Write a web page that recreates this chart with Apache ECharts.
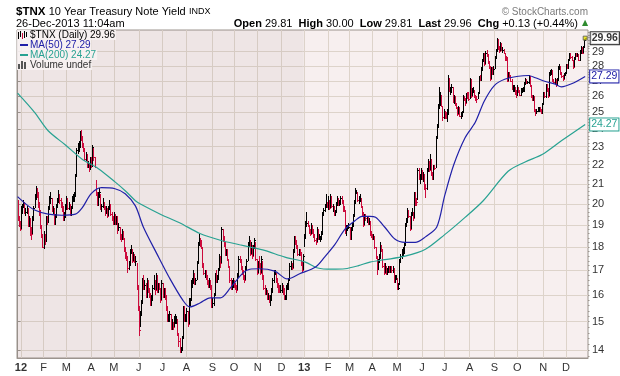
<!DOCTYPE html>
<html>
<head>
<meta charset="utf-8">
<title>$TNX 10 Year Treasury Note Yield</title>
<script src="https://cdn.jsdelivr.net/npm/echarts@6.0.0/dist/echarts.min.js"></script>
<style>
html, body { margin: 0; padding: 0; background: #fff; }
#chart { width: 620px; height: 376px; }
</style>
</head>
<body>
<div id="chart"></div>
<script>
// daily bars, one entry per trading day, 28-Dec-2011 .. 26-Dec-2013
const closes = [
  19.3, 19.1, 18.8,
  19.6, 19.9, 20.0, 19.6, 19.6, 19.7, 19.0, 19.3, 18.7, 18.6, 19.3, 19.8, 20.3, 20.7, 20.5, 20.0, 19.6, 18.9, 18.5, 18.0,
  18.5, 18.3, 19.3, 19.2, 19.8, 20.2, 20.3, 19.7, 19.8, 19.1, 19.4, 19.9, 20.1, 20.5, 20.2, 20.0, 19.8, 19.3, 19.4, 19.8,
  20.3, 19.8, 20.0, 19.5, 19.8, 20.3, 20.3, 20.4, 21.4, 22.8, 22.9, 23.0, 23.8, 23.6, 23.0, 22.9, 22.3, 22.6, 21.9, 22.0, 21.8, 22.3,
  22.0, 23.0, 22.4, 21.9, 20.5, 20.0, 20.5, 20.6, 19.8, 19.9, 20.1, 19.8, 19.6, 19.8, 19.4, 19.8, 20.0, 19.5, 19.3, 19.1,
  19.5, 19.1, 19.3, 18.8, 18.9, 18.5, 18.4, 18.7, 18.4, 17.9, 17.7, 17.6, 17.1, 17.3, 17.8, 17.9, 17.4, 17.7, 17.4, 17.4, 16.3, 15.6,
  14.7, 15.3, 15.7, 16.6, 16.4, 16.4, 16.0, 16.6, 16.2, 16.1, 15.8, 15.8, 16.3, 16.5, 16.2, 16.8, 16.2, 16.4, 16.3, 15.8, 16.5,
  16.0, 16.2, 15.9, 15.5, 15.1, 15.1, 15.3, 14.8, 14.9, 14.8, 15.1, 15.1, 15.1, 14.6, 14.3, 14.0, 14.0, 14.4, 15.5, 15.1, 15.1,
  15.4, 14.9, 15.7, 15.8, 16.5, 16.5, 16.9, 16.5, 16.6, 17.3, 18.1, 18.3, 18.1, 18.0, 17.2, 16.9, 16.9, 16.7, 16.5, 16.4, 16.6, 16.3, 15.7,
  15.7, 16.0, 16.8, 16.6, 16.7, 17.0, 17.6, 17.3, 18.8, 18.4, 18.1, 17.7, 17.8, 17.5, 17.2, 16.6, 16.3, 16.5, 16.5,
  16.4, 16.3, 16.2, 16.8, 17.5, 17.4, 17.1, 16.9, 16.7, 16.6, 17.1, 17.4, 18.1, 18.3, 17.7, 18.1, 17.6, 18.0, 18.3, 17.5, 16.9,
  17.3, 17.2, 16.9, 17.5, 16.7, 16.3, 16.1, 16.2, 15.9, 15.9, 15.8, 15.8, 16.2, 16.6, 16.9, 16.9, 16.6, 16.4, 16.3, 16.2, 16.2,
  16.3, 16.2, 15.9, 15.9, 16.3, 16.3, 16.6, 17.2, 17.2, 17.1, 17.8, 18.4, 18.2, 18.0, 17.7, 17.8, 17.7, 17.3, 17.0, 17.6,
  18.4, 19.0, 19.1, 19.0, 18.7, 18.6, 19.0, 18.7, 18.5, 18.3, 18.2, 18.8, 18.4, 18.4, 18.4, 18.6, 19.5, 19.7, 19.9, 20.0, 19.9,
  20.2, 19.8, 20.4, 19.9, 19.9, 19.5, 19.6, 20.0, 20.3, 20.0, 20.0, 20.3, 20.2, 19.8, 19.7, 18.7, 18.8, 18.9, 18.9,
  18.4, 18.8, 19.0, 19.4, 20.1, 20.6, 20.6, 20.2, 20.3, 20.3, 19.9, 19.6, 19.0, 19.4, 19.3, 19.3, 19.1, 19.2, 18.6, 18.5,
  18.4, 18.5, 18.0, 17.6, 17.1, 17.4, 17.6, 18.1, 17.9, 17.2, 16.9, 17.2, 16.9, 17.0, 17.1, 17.0, 17.1, 17.0, 17.1, 16.6, 16.7, 16.7,
  16.3, 16.3, 17.4, 17.6, 17.8, 17.8, 18.1, 19.0, 19.2, 19.7, 19.4, 18.8, 19.5, 19.6, 19.3, 20.4, 20.2, 20.1, 21.7, 21.3, 21.3, 21.6,
  21.3, 21.5, 20.9, 20.8, 21.7, 22.1, 21.7, 22.3, 21.5, 21.3, 21.9, 21.8, 23.5, 24.1, 25.3, 25.5, 26.1, 25.4, 24.7, 24.9,
  24.8, 24.7, 24.9, 27.2, 26.4, 26.4, 26.6, 25.7, 25.9, 25.5, 25.3, 24.9, 25.3, 24.8, 24.8, 25.0, 26.0, 25.8, 25.6, 26.1, 26.0, 25.8,
  27.1, 26.0, 26.4, 26.4, 26.0, 25.9, 25.8, 26.2, 27.2, 27.1, 27.7, 28.3, 28.8, 28.1, 28.9, 28.8, 28.2, 27.9, 27.1, 27.8, 27.5, 27.8,
  28.6, 29.0, 29.8, 29.3, 29.0, 29.6, 29.1, 29.1, 28.9, 28.6, 28.4, 27.0, 27.5, 27.3, 27.0, 26.5, 26.5, 26.5, 26.2, 26.1,
  26.6, 26.3, 26.1, 26.4, 26.4, 26.4, 26.8, 27.0, 26.9, 26.9, 27.3, 26.7, 26.0, 25.8, 26.0, 25.1, 25.0, 25.1, 25.1, 25.2, 25.1, 25.0, 25.5,
  26.2, 26.0, 26.7, 26.4, 26.0, 27.5, 27.5, 27.7, 27.0, 26.9, 27.1, 26.7, 27.1, 27.9, 27.9, 27.5, 27.3, 27.1, 27.4, 27.5,
  28.0, 27.9, 28.4, 28.8, 28.6, 28.4, 27.9, 28.5, 28.8, 28.7, 28.8, 28.4, 28.9, 29.3, 28.9, 29.3, 29.83, 29.96
]
const highs = [
  20.2, 19.4, 19.2,
  19.9, 20.0, 20.2, 20.1, 19.8, 19.9, 19.8, 19.4, 19.3, 18.9, 19.4, 19.9, 20.5, 20.9, 20.8, 20.6, 20.1, 19.7, 19.0, 18.6,
  18.7, 18.6, 19.4, 19.4, 19.9, 20.4, 20.6, 20.3, 19.9, 19.8, 19.5, 20.0, 20.3, 20.7, 20.5, 20.3, 20.1, 19.9, 19.6, 20.0,
  20.4, 20.3, 20.1, 20.0, 19.9, 20.4, 20.5, 20.6, 21.5, 22.9, 23.2, 23.3, 23.9, 23.95, 23.6, 23.2, 22.9, 22.7, 22.6, 22.2, 22.1, 22.4,
  22.4, 23.1, 22.9, 22.4, 21.2, 20.6, 20.6, 20.8, 20.5, 20.0, 20.3, 20.1, 19.9, 19.9, 19.8, 19.9, 20.2, 20.0, 19.6, 19.4,
  19.6, 19.5, 19.4, 19.4, 19.1, 18.9, 18.6, 18.8, 18.7, 18.4, 18.0, 17.8, 17.6, 17.4, 17.9, 18.1, 17.9, 17.8, 17.7, 17.6, 17.3, 16.4,
  15.6, 15.4, 15.8, 16.7, 16.8, 16.6, 16.5, 16.7, 16.6, 16.3, 16.1, 16.0, 16.4, 16.8, 16.6, 16.9, 16.8, 16.5, 16.5, 16.3, 16.6,
  16.5, 16.3, 16.3, 16.0, 15.6, 15.3, 15.4, 15.3, 15.1, 15.0, 15.2, 15.3, 15.2, 15.1, 14.6, 14.4, 14.1, 14.5, 15.6, 15.6, 15.3,
  15.5, 15.4, 15.9, 15.9, 16.6, 16.7, 17.0, 16.9, 16.7, 17.4, 18.2, 18.6, 18.4, 18.3, 18.0, 17.3, 17.0, 17.0, 16.8, 16.6, 16.7, 16.6, 16.4,
  15.9, 16.1, 16.9, 17.0, 16.8, 17.1, 17.7, 17.6, 18.9, 18.8, 18.5, 18.2, 17.9, 17.9, 17.5, 17.2, 16.7, 16.6, 16.7,
  16.6, 16.5, 16.4, 16.9, 17.6, 17.6, 17.5, 17.2, 17.0, 16.8, 17.2, 17.5, 18.2, 18.5, 18.3, 18.2, 18.1, 18.1, 18.4, 18.2, 17.5,
  17.4, 17.6, 17.3, 17.6, 17.4, 16.8, 16.4, 16.3, 16.2, 16.1, 16.0, 16.0, 16.3, 16.7, 17.0, 17.0, 16.9, 16.7, 16.5, 16.4, 16.4,
  16.5, 16.4, 16.3, 16.0, 16.4, 16.5, 16.7, 17.3, 17.4, 17.3, 17.9, 18.5, 18.5, 18.3, 18.1, 17.9, 17.9, 17.8, 17.4, 17.7,
  18.6, 19.2, 19.6, 19.2, 19.0, 18.8, 19.1, 19.0, 18.8, 18.6, 18.4, 18.9, 18.8, 18.6, 18.5, 18.7, 19.6, 19.8, 20.0, 20.5, 20.1,
  20.4, 20.2, 20.5, 20.4, 20.0, 19.9, 19.7, 20.1, 20.4, 20.3, 20.2, 20.4, 20.4, 20.2, 19.9, 19.7, 19.0, 19.0, 19.1,
  18.9, 18.9, 19.1, 19.5, 20.2, 20.8, 20.7, 20.6, 20.4, 20.5, 20.3, 19.9, 19.6, 19.5, 19.5, 19.4, 19.4, 19.3, 19.2, 18.7,
  18.6, 18.6, 18.5, 18.0, 17.6, 17.5, 17.7, 18.2, 18.1, 17.9, 17.3, 17.3, 17.2, 17.1, 17.2, 17.2, 17.2, 17.2, 17.2, 17.1, 16.8, 16.8,
  16.7, 16.5, 17.5, 17.7, 17.9, 18.0, 18.2, 19.1, 19.3, 19.8, 19.7, 19.4, 19.6, 19.8, 19.6, 20.6, 20.6, 20.3, 21.8, 21.8, 21.5, 21.8,
  21.7, 21.6, 21.5, 21.0, 21.8, 22.3, 22.2, 22.6, 22.3, 21.6, 22.0, 22.0, 23.6, 24.3, 25.5, 26.6, 26.3, 26.1, 25.4, 25.2,
  25.1, 25.0, 25.2, 27.4, 27.2, 26.6, 26.8, 26.6, 26.1, 26.0, 25.6, 25.3, 25.4, 25.3, 25.0, 25.1, 26.1, 26.0, 25.9, 26.2, 26.3, 26.3,
  27.2, 27.1, 26.5, 26.6, 26.4, 26.1, 26.0, 26.3, 27.3, 27.4, 27.9, 28.5, 28.9, 28.9, 29.0, 29.1, 28.8, 28.3, 28.0, 27.9, 27.9, 28.0,
  28.7, 29.2, 30.0, 29.9, 29.4, 29.7, 29.6, 29.3, 29.2, 28.9, 28.7, 28.6, 27.6, 27.6, 27.4, 27.1, 26.7, 26.7, 26.6, 26.4,
  26.7, 26.6, 26.4, 26.5, 26.5, 26.6, 26.9, 27.2, 27.1, 27.0, 27.4, 27.3, 26.7, 26.1, 26.1, 26.0, 25.2, 25.2, 25.3, 25.3, 25.3, 25.2, 25.6,
  26.3, 26.3, 26.8, 26.8, 26.5, 27.6, 27.7, 27.8, 27.7, 27.1, 27.2, 27.1, 27.2, 28.0, 28.1, 28.0, 27.6, 27.4, 27.5, 27.6,
  28.1, 28.1, 28.5, 28.9, 28.9, 28.7, 28.4, 28.6, 28.9, 28.9, 28.9, 28.8, 29.1, 29.4, 29.3, 29.4, 29.9, 30.0
]
const lows = [
  19.2, 18.9, 18.7,
  18.8, 19.5, 19.8, 19.5, 19.4, 19.5, 18.9, 18.9, 18.5, 18.3, 18.6, 19.2, 19.8, 20.2, 20.3, 19.8, 19.4, 18.8, 18.4, 17.95,
  17.9, 18.1, 18.2, 19.0, 19.1, 19.7, 20.0, 19.6, 19.5, 19.0, 19.0, 19.3, 19.8, 20.1, 20.0, 19.8, 19.6, 19.2, 19.2, 19.3,
  19.7, 19.7, 19.7, 19.4, 19.4, 19.8, 20.1, 20.1, 20.4, 21.4, 22.6, 22.7, 23.0, 23.3, 22.9, 22.7, 22.2, 22.2, 21.8, 21.8, 21.6, 21.7,
  21.8, 21.9, 22.2, 21.8, 20.4, 19.9, 19.9, 20.3, 19.7, 19.6, 19.8, 19.7, 19.4, 19.5, 19.3, 19.4, 19.7, 19.4, 19.2, 19.0,
  19.0, 19.0, 19.0, 18.6, 18.7, 18.3, 18.2, 18.3, 18.3, 17.8, 17.5, 17.4, 16.9, 17.0, 17.2, 17.7, 17.3, 17.4, 17.3, 17.2, 16.2, 15.4,
  14.5, 14.8, 15.2, 15.7, 16.2, 16.2, 15.9, 15.9, 16.1, 15.9, 15.6, 15.6, 15.8, 16.2, 16.0, 16.2, 16.1, 16.1, 16.2, 15.7, 15.8,
  15.9, 15.9, 15.8, 15.4, 15.0, 15.0, 15.0, 14.7, 14.7, 14.7, 14.8, 14.9, 14.9, 14.5, 14.1, 13.9, 13.9, 14.0, 14.4, 15.0, 15.0,
  15.0, 14.8, 14.9, 15.6, 15.8, 16.3, 16.5, 16.4, 16.4, 16.6, 17.3, 18.1, 18.0, 17.9, 17.1, 16.8, 16.7, 16.6, 16.4, 16.3, 16.3, 16.2, 15.5,
  15.5, 15.6, 16.0, 16.5, 16.5, 16.6, 17.0, 17.1, 17.3, 18.2, 18.0, 17.6, 17.6, 17.4, 17.1, 16.5, 16.2, 16.2, 16.3,
  16.3, 16.2, 16.1, 16.2, 16.7, 17.3, 17.0, 16.8, 16.6, 16.5, 16.6, 17.0, 17.4, 18.0, 17.6, 17.7, 17.5, 17.6, 17.9, 17.4, 16.8,
  16.9, 17.1, 16.8, 16.9, 16.6, 16.2, 16.0, 16.0, 15.8, 15.8, 15.7, 15.6, 15.8, 16.1, 16.5, 16.8, 16.5, 16.3, 16.1, 16.1, 16.1,
  16.1, 16.0, 15.8, 15.8, 15.8, 16.2, 16.2, 16.6, 17.0, 17.0, 17.1, 17.8, 18.1, 17.9, 17.6, 17.6, 17.6, 17.2, 16.9, 17.0,
  18.0, 18.4, 18.9, 18.9, 18.6, 18.5, 18.6, 18.6, 18.4, 18.2, 18.1, 18.2, 18.3, 18.3, 18.2, 18.3, 18.6, 19.4, 19.6, 19.8, 19.8,
  19.7, 19.7, 19.8, 19.8, 19.6, 19.4, 19.4, 19.6, 19.9, 19.9, 19.9, 20.0, 20.0, 19.6, 19.6, 18.6, 18.5, 18.7, 18.8,
  18.3, 18.3, 18.7, 18.9, 19.4, 20.0, 20.5, 20.1, 20.0, 20.1, 19.8, 19.4, 18.9, 19.0, 19.2, 19.1, 19.0, 19.0, 18.5, 18.4,
  18.3, 18.3, 17.9, 17.5, 16.8, 17.0, 17.3, 17.5, 17.8, 17.1, 16.8, 16.9, 16.8, 16.8, 16.9, 16.9, 16.9, 16.9, 16.9, 16.5, 16.5, 16.6,
  16.2, 16.2, 16.4, 17.3, 17.5, 17.6, 17.7, 18.1, 18.9, 19.1, 19.3, 18.7, 18.8, 19.4, 19.2, 19.3, 19.9, 19.9, 20.2, 21.2, 21.0, 21.2,
  21.2, 21.1, 20.7, 20.3, 20.7, 21.6, 21.6, 21.7, 21.4, 21.2, 21.2, 21.7, 21.8, 23.4, 24.1, 25.2, 25.4, 25.3, 24.5, 24.6,
  24.6, 24.6, 24.4, 24.9, 26.3, 26.1, 26.2, 25.6, 25.5, 25.4, 25.2, 24.8, 24.9, 24.7, 24.6, 24.7, 25.0, 25.7, 25.4, 25.6, 25.8, 25.7,
  25.8, 25.9, 26.0, 26.2, 25.9, 25.7, 25.6, 25.8, 26.2, 27.0, 27.0, 27.7, 28.3, 28.0, 28.1, 28.6, 28.1, 27.8, 27.0, 27.1, 27.4, 27.4,
  27.8, 28.5, 29.0, 29.1, 28.9, 29.0, 29.0, 28.9, 28.8, 28.3, 28.3, 26.9, 27.0, 27.2, 26.9, 26.4, 26.3, 26.3, 26.1, 25.9,
  26.0, 26.2, 26.0, 26.0, 26.2, 26.3, 26.3, 26.7, 26.8, 26.8, 26.8, 26.6, 25.9, 25.7, 25.7, 25.0, 24.8, 24.9, 25.0, 25.0, 25.0, 24.9, 24.9,
  25.5, 25.9, 25.9, 26.3, 25.9, 26.0, 27.3, 27.4, 26.9, 26.8, 26.8, 26.6, 26.7, 27.0, 27.7, 27.4, 27.2, 27.0, 27.1, 27.3,
  27.5, 27.8, 27.8, 28.3, 28.5, 28.3, 27.8, 27.9, 28.4, 28.6, 28.6, 28.3, 28.3, 28.9, 28.8, 28.9, 29.3, 29.81
]

// moving averages: [day index, value]
const ma50 = [
  [0, 20.35], [7, 20.0], [15, 19.7], [27, 19.5], [39, 19.45], [51, 19.5], [57, 19.8], [65, 20.5], [74, 20.8],
  [86, 20.75], [95, 20.5], [104, 19.9], [111, 18.9], [123, 17.7], [134, 16.7], [146, 15.8], [152, 15.55],
  [161, 15.7], [170, 15.9], [179, 15.9], [188, 16.3], [199, 16.9], [205, 17.05], [213, 17.07], [227, 16.97],
  [238, 16.65], [249, 16.86], [263, 17.14], [271, 17.56], [280, 18.1], [289, 18.8], [298, 19.2], [304, 19.4],
  [311, 19.4], [316, 19.35], [324, 18.9], [333, 18.35], [342, 18.2], [351, 18.2], [360, 18.45], [370, 18.9],
  [377, 20.4], [385, 22.0], [395, 23.5], [404, 24.4], [412, 25.7], [421, 26.7], [430, 27.1], [442, 27.3],
  [451, 27.35], [457, 27.2], [466, 26.95], [474, 26.8], [480, 26.6], [489, 26.8], [501, 27.29]
]
const ma200 = [
  [0, 26.2], [15, 25.0], [27, 23.9], [42, 23.1], [57, 22.3], [71, 21.8], [86, 21.1], [95, 20.65], [104, 20.15],
  [108, 20.0], [126, 19.5], [143, 19.1], [161, 18.6], [179, 18.3], [196, 18.1], [205, 18.0], [218, 17.85],
  [236, 17.56], [254, 17.35], [265, 17.1], [277, 17.05], [289, 17.07], [301, 17.2], [311, 17.35], [324, 17.45],
  [342, 17.6], [360, 17.9], [377, 18.55], [395, 19.35], [411, 20.15], [433, 21.65], [448, 22.15], [463, 22.55],
  [480, 23.32], [501, 24.27]
]

// first trading day of each month and its axis letter
const monthStarts = [3, 23, 43, 65, 85, 107, 128, 149, 172, 191, 212, 233,
  253, 274, 293, 313, 335, 357, 377, 399, 421, 441, 464, 484]
const monthLabels = ['12', 'F', 'M', 'A', 'M', 'J', 'J', 'A', 'S', 'O', 'N', 'D',
  '13', 'F', 'M', 'A', 'M', 'J', 'J', 'A', 'S', 'O', 'N', 'D']
const yTicks = [14, 15, 16, 17, 18, 19, 20, 21, 22, 23, 24, 25, 26, 27, 28, 29]

if (closes.length !== 502 || highs.length !== 502 || lows.length !== 502) {
  throw new Error('bad lengths ' + closes.length + ' ' + highs.length + ' ' + lows.length)
}

// small dotted ticks along the price axis, every 0.2
const minorTicks = []
for (let v = 13.8; v < 30.5; v += 0.2) minorTicks.push(Math.round(v * 10) / 10)

const FONT = 'Liberation Sans'
const RED = '#cc0a3c'
const BLACK = '#000000'
const BLUE = '#2020a8'
const TEAL = '#28a292'
const GRID = '#ddd3ca'
const FRAME = '#9c948e'
const Y_MIN = 13.73
const Y_MAX = 30.56

const bars = closes.map((c, i) => [i, lows[i], highs[i], c, i > 0 ? closes[i - 1] : 99])
const last = closes.length - 1

const renderBar = (params, api) => {
  const lo = api.coord([api.value(0), api.value(1)])
  const hi = api.coord([api.value(0), api.value(2)])
  const cl = api.coord([api.value(0), api.value(3)])
  const x = Math.round(lo[0]) + 0.5
  const yTop = Math.round(hi[1])
  const yBot = Math.max(Math.round(lo[1]), yTop + 2)
  const yc = Math.round(cl[1]) + 0.5
  const color = api.value(3) < api.value(4) ? RED : BLACK
  return {
    type: 'group',
    children: [
      { type: 'line', shape: { x1: x, y1: yTop, x2: x, y2: yBot }, style: { stroke: color, lineWidth: 1 } },
      { type: 'line', shape: { x1: x, y1: yc, x2: x + 1.5, y2: yc }, style: { stroke: color, lineWidth: 1 } }
    ]
  }
}

const boxLabel = (color, bold) => ({
  show: true,
  distance: 5,
  fontFamily: FONT,
  fontSize: 10.5,
  fontWeight: bold ? 'bold' : 'normal',
  color: bold ? '#000' : color,
  backgroundColor: '#fff',
  borderColor: color,
  borderWidth: 1,
  padding: [1, 1, 0, 1],
  lineHeight: 11
})

const chart = echarts.init(document.getElementById('chart'))
chart.setOption({
  animation: false,
  textStyle: { fontFamily: FONT },
  grid: {
    left: 17, right: 32, top: 30, bottom: 18,
    show: true, backgroundColor: '#f7efef', borderColor: FRAME, borderWidth: 1
  },
  xAxis: {
    type: 'value', min: -0.5, max: 503.5,
    axisLine: { show: true, onZero: false, lineStyle: { color: FRAME } },
    axisTick: { show: false, customValues: monthStarts },
    axisLabel: {
      customValues: monthStarts,
      margin: 4,
      fontSize: 11,
      color: '#333',
      formatter: (v) => {
        const s = monthLabels[monthStarts.indexOf(v)] || ''
        return /\d/.test(s) ? '{y|' + s + '}' : s
      },
      rich: { y: { fontWeight: 'bold', fontSize: 11, color: '#333', fontFamily: FONT } }
    },
    splitLine: { show: true, lineStyle: { color: GRID, width: 1 } }
  },
  yAxis: [
    {
      type: 'log', logBase: 10, position: 'right', min: Y_MIN, max: Y_MAX,
      axisLine: { show: true, lineStyle: { color: FRAME } },
      axisTick: { show: true, length: 3, customValues: yTicks, lineStyle: { color: FRAME } },
      axisLabel: { customValues: yTicks, margin: 4, fontSize: 11, color: '#333' },
      splitLine: { show: true, lineStyle: { color: GRID, width: 1 } }
    },
    {
      type: 'log', logBase: 10, position: 'right', min: Y_MIN, max: Y_MAX,
      axisLine: { show: false },
      axisTick: { show: true, length: 1.5, customValues: minorTicks, lineStyle: { color: FRAME } },
      axisLabel: { show: false },
      splitLine: { show: false }
    }
  ],
  series: [
    {
      type: 'custom',
      renderItem: renderBar,
      data: bars,
      encode: { x: 0, y: [1, 2] },
      silent: true,
      z: 2,
      markArea: {
        silent: true,
        itemStyle: { color: 'rgba(110,90,90,0.06)' },
        data: [[{ xAxis: -0.5 }, { xAxis: monthStarts[12] - 0.5 }]]
      }
    },
    {
      type: 'line', data: ma200, showSymbol: false, smooth: 0.3, silent: true, z: 3,
      lineStyle: { color: TEAL, width: 1.2 },
      endLabel: { ...boxLabel(TEAL, false), formatter: (p) => p.value[1].toFixed(2) }
    },
    {
      type: 'line', data: ma50, showSymbol: false, smooth: 0.3, silent: true, z: 3,
      lineStyle: { color: BLUE, width: 1.2 },
      endLabel: { ...boxLabel(BLUE, false), formatter: (p) => p.value[1].toFixed(2) }
    },
    {
      type: 'scatter', data: [[last, closes[last]]], symbol: 'rect', symbolSize: 4, silent: true, z: 4,
      itemStyle: { color: '#e6e000', borderColor: '#555', borderWidth: 1 },
      label: { ...boxLabel('#000', true), position: 'right', distance: 3, formatter: (p) => p.value[1].toFixed(2) }
    }
  ],
  graphic: [
    {
      type: 'text', x: 16, y: 12,
      style: {
        text: '{a|$TNX} {b|10 Year Treasury Note Yield} {c|INDX}',
        verticalAlign: 'middle',
        rich: {
          a: { fontFamily: FONT, fontSize: 11.5, fontWeight: 'bold', fill: '#000' },
          b: { fontFamily: FONT, fontSize: 11, fill: '#000' },
          c: { fontFamily: FONT, fontSize: 9, fill: '#000' }
        }
      }
    },
    {
      type: 'text', x: 16, y: 24,
      style: { text: '26-Dec-2013 11:04am', font: '11px "Liberation Sans"', fill: '#000', verticalAlign: 'middle' }
    },
    {
      type: 'text', x: 578, y: 24,
      style: {
        text: '{b|Open} 29.81  {b|High} 30.00  {b|Low} 29.81  {b|Last} 29.96  {b|Chg} +0.13 (+0.44%)',
        align: 'right', verticalAlign: 'middle',
        font: '11px "Liberation Sans"', fill: '#000',
        rich: { b: { fontFamily: FONT, fontSize: 11, fontWeight: 'bold', fill: '#000' } }
      }
    },
    {
      type: 'text', x: 585, y: 23,
      style: { text: '\u25B2', font: '8px "DejaVu Sans"', fill: '#2e8b2e', align: 'center', verticalAlign: 'middle' }
    },
    {
      type: 'text', x: 588, y: 12,
      style: { text: '\u00A9 StockCharts.com', font: '10px "Liberation Sans"', fill: '#7a7a7a', align: 'right', verticalAlign: 'middle' }
    },
    // legend inside the plot
    {
      type: 'text', x: 29, y: 35, z: 10,
      style: { text: '$TNX (Daily) 29.96', font: '10px "Liberation Sans"', fill: '#000', verticalAlign: 'middle', backgroundColor: 'rgba(247,242,242,0.9)', padding: [0, 1] }
    },
    {
      type: 'text', x: 29, y: 45, z: 10,
      style: { text: 'MA(50) 27.29', font: '10px "Liberation Sans"', fill: BLUE, verticalAlign: 'middle', backgroundColor: 'rgba(247,242,242,0.9)', padding: [0, 1] }
    },
    {
      type: 'text', x: 29, y: 55, z: 10,
      style: { text: 'MA(200) 24.27', font: '10px "Liberation Sans"', fill: TEAL, verticalAlign: 'middle', backgroundColor: 'rgba(247,242,242,0.9)', padding: [0, 1] }
    },
    {
      type: 'text', x: 29, y: 65, z: 10,
      style: { text: 'Volume undef', font: '10px "Liberation Sans"', fill: '#333', verticalAlign: 'middle', backgroundColor: 'rgba(247,242,242,0.9)', padding: [0, 1] }
    },
    { type: 'rect', z: 10, shape: { x: 17, y: 30, width: 12, height: 40 }, style: { fill: 'rgba(247,242,242,0.9)' } },
    { type: 'line', z: 11, shape: { x1: 18.5, y1: 32, x2: 18.5, y2: 39 }, style: { stroke: '#000', lineWidth: 1 } },
    { type: 'line', z: 11, shape: { x1: 20.5, y1: 31, x2: 20.5, y2: 37 }, style: { stroke: '#000', lineWidth: 1 } },
    { type: 'line', z: 11, shape: { x1: 22.5, y1: 33, x2: 22.5, y2: 39 }, style: { stroke: RED, lineWidth: 1 } },
    { type: 'line', z: 11, shape: { x1: 24.5, y1: 31, x2: 24.5, y2: 38 }, style: { stroke: '#000', lineWidth: 1 } },
    { type: 'line', z: 11, shape: { x1: 26.5, y1: 32, x2: 26.5, y2: 37 }, style: { stroke: '#000', lineWidth: 1 } },
    { type: 'line', z: 11, shape: { x1: 20, y1: 45, x2: 28, y2: 45 }, style: { stroke: BLUE, lineWidth: 2 } },
    { type: 'line', z: 11, shape: { x1: 20, y1: 55, x2: 28, y2: 55 }, style: { stroke: TEAL, lineWidth: 2 } },
    { type: 'rect', z: 11, shape: { x: 18, y: 64, width: 2, height: 5 }, style: { fill: '#555' } },
    { type: 'rect', z: 11, shape: { x: 21, y: 61, width: 2, height: 8 }, style: { fill: '#555' } },
    { type: 'rect', z: 11, shape: { x: 24, y: 62, width: 2, height: 7 }, style: { fill: '#555' } }
  ]
})
</script>
</body>
</html>
